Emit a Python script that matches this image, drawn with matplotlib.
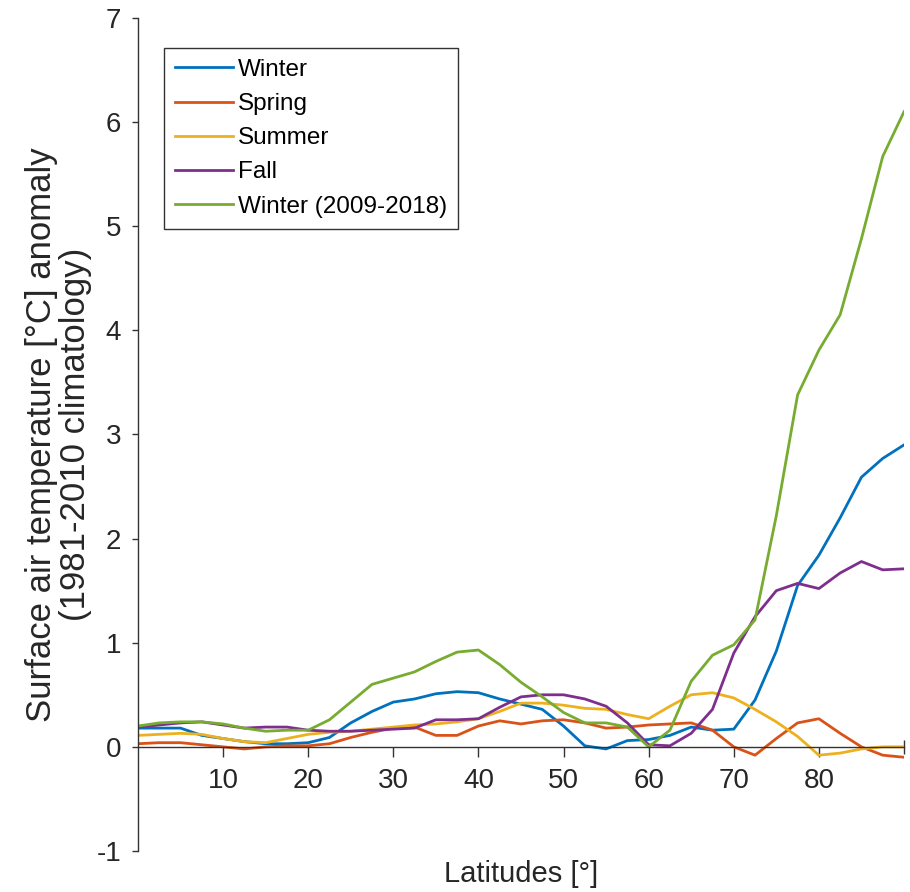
import matplotlib
matplotlib.use("Agg")
import matplotlib.pyplot as plt

# latitude grid (deg)
latitudes = [0, 2.5, 5, 7.5, 10, 12.5, 15, 17.5, 20, 22.5, 25, 27.5, 30, 32.5,
             35, 37.5, 40, 42.5, 45, 47.5, 50, 52.5, 55, 57.5, 60, 62.5, 65,
             67.5, 70, 72.5, 75, 77.5, 80, 82.5, 85, 87.5, 90]

# seasonal anomalies
winter = [0.18, 0.18, 0.18, 0.11, 0.08, 0.05, 0.03, 0.03, 0.04, 0.09, 0.23, 0.34,
          0.43, 0.46, 0.51, 0.53, 0.52, 0.46, 0.41, 0.36, 0.20, 0.01, -0.02, 0.06,
          0.07, 0.11, 0.19, 0.16, 0.17, 0.45, 0.92, 1.55, 1.84, 2.20, 2.59, 2.77, 2.90]
spring = [0.03, 0.04, 0.04, 0.02, 0.0, -0.02, 0.0, 0.01, 0.01, 0.03, 0.09, 0.14,
          0.18, 0.19, 0.11, 0.11, 0.20, 0.25, 0.22, 0.25, 0.26, 0.23, 0.18, 0.19,
          0.21, 0.22, 0.23, 0.16, 0.0, -0.08, 0.08, 0.23, 0.27, 0.13, 0.0, -0.08, -0.10]
summer = [0.11, 0.12, 0.13, 0.12, 0.08, 0.05, 0.04, 0.08, 0.12, 0.14, 0.15, 0.17,
          0.19, 0.21, 0.22, 0.24, 0.27, 0.34, 0.42, 0.42, 0.40, 0.37, 0.36, 0.31,
          0.27, 0.39, 0.50, 0.52, 0.47, 0.36, 0.24, 0.10, -0.08, -0.06, -0.02, 0.0, 0.0]
fall = [0.19, 0.21, 0.23, 0.24, 0.21, 0.18, 0.19, 0.19, 0.16, 0.15, 0.15, 0.16,
        0.17, 0.18, 0.26, 0.26, 0.27, 0.38, 0.48, 0.50, 0.50, 0.46, 0.39, 0.23,
        0.02, 0.01, 0.13, 0.36, 0.90, 1.25, 1.50, 1.57, 1.52, 1.67, 1.78, 1.70, 1.71]
winter_recent = [0.20, 0.23, 0.24, 0.24, 0.22, 0.18, 0.15, 0.16, 0.16, 0.26, 0.43, 0.60,
                 0.66, 0.72, 0.82, 0.91, 0.93, 0.79, 0.62, 0.48, 0.33, 0.23, 0.23, 0.19,
                 0.0, 0.16, 0.63, 0.88, 0.98, 1.22, 2.22, 3.38, 3.81, 4.15, 4.88, 5.67, 6.10]

series = [winter, spring, summer, fall, winter_recent]
labels = ["Winter", "Spring", "Summer", "Fall", "Winter (2009-2018)"]
colors = ["#0072BD", "#D95319", "#EDB120", "#7E2F8E", "#77AC30"]

xticks = [10, 20, 30, 40, 50, 60, 70, 80]
yticks = [-1, 0, 1, 2, 3, 4, 5, 6, 7]

plt.rcParams['font.family'] = ['Liberation Sans', 'DejaVu Sans']
plt.rcParams['axes.unicode_minus'] = False
axis_color = '#333333'

fig = plt.figure(figsize=(9.1, 8.92), dpi=100)
ax = fig.add_axes([0.1516, 0.046, 0.8418, 0.9338])

for vals, lab, col in zip(series, labels, colors):
    ax.plot(latitudes, vals, color=col, lw=2.0, label=lab)

ax.set_xlim(0, 90)
ax.set_ylim(-1, 7)

# MATLAB-like axes: x axis through the origin, no box
ax.spines['top'].set_visible(False)
ax.spines['right'].set_visible(False)
ax.spines['bottom'].set_position(('data', 0))
for s in ['left', 'bottom']:
    ax.spines[s].set_color(axis_color)
    ax.spines[s].set_linewidth(1.0)

ax.set_xticks(xticks)
ax.set_xticks([90], minor=True)
ax.set_yticks(yticks)
ax.tick_params(axis='x', which='major', direction='out', length=7, width=1.0,
               colors=axis_color, labelsize=20, pad=8)
ax.tick_params(axis='x', which='minor', direction='inout', length=10, width=1.0,
               colors=axis_color)
ax.tick_params(axis='y', direction='out', length=4, width=1.0,
               colors=axis_color, labelsize=20, pad=8)
for t in ax.get_xticklabels() + ax.get_yticklabels():
    t.set_color('#262626')

ax.set_xlabel('Latitudes [°]', fontsize=21, color='#262626', va='top')
ax.xaxis.set_label_coords(0.5, -0.011)
ax.set_ylabel('Surface air temperature [°C] anomaly\n(1981-2010 climatology)',
              fontsize=25, color='#262626', linespacing=1.05)
ax.yaxis.set_label_coords(-0.06, 0.5)

leg = ax.legend(loc='upper left', bbox_to_anchor=(0.034, 0.964), borderaxespad=0,
                fontsize=17.5, frameon=True, fancybox=False, framealpha=1,
                handlelength=2.4, handletextpad=0.2, labelspacing=0.5,
                borderpad=0.45)
leg.get_frame().set_edgecolor(axis_color)
leg.get_frame().set_linewidth(1.0)

fig.savefig('out.png', dpi=100)
